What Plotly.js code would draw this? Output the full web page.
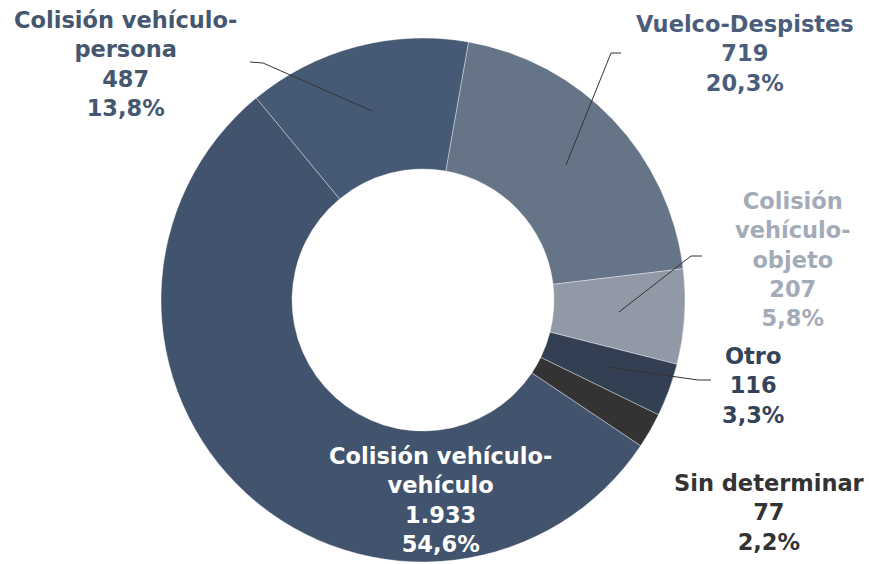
<!DOCTYPE html>
<html><head><meta charset="utf-8">
<script src="https://cdn.plot.ly/plotly-3.0.1.min.js"></script>
<style>html,body{margin:0;padding:0;background:#fff}#chart{width:869px;height:564px}</style>
</head><body><div id="chart"></div>
<script>
// ---- data ----
const categories = ["Vuelco-Despistes", "Colisión vehículo-objeto", "Otro", "Sin determinar", "Colisión vehículo-vehículo", "Colisión vehículo-persona"];
const labelText = ["Vuelco-Despistes", "Colisión<br>vehículo-<br>objeto", "Otro", "Sin determinar", "Colisión vehículo-<br>vehículo", "Colisión vehículo-<br>persona"];
const values = [719, 207, 116, 77, 1933, 487];

// ---- styles ----
const sliceColors = ["#667488", "#9199A6", "#333F53", "#333333", "#42546D", "#475A75"];
const labelColors = ["#4A5E7B", "#A3ABB8", "#34435A", "#333333", "#FFFFFF", "#44576F"];
// label centres (px) and leader lines (px)
const labelPos = [[745, 54], [793, 259], [753, 385], [769, 512], [440, 500], [125, 64]];
const leaders = [
  [[621, 53], [611, 53], [566, 165]],
  [[702, 256], [691, 256], [619, 312]],
  [[711, 380], [698, 380], [607, 367]],
  null,
  null,
  [[250, 62], [263, 63], [372, 111]]
];

const W = 869, H = 564;
const px = x => x / W, py = y => 1 - y / H;
const total = values.reduce((a, b) => a + b, 0);
const fmtNum = v => v.toString().replace(/\B(?=(\d{3})+(?!\d))/g, ".");
const fmtPct = v => (v / total * 100).toFixed(1).replace(".", ",") + "%";

const annotations = categories.map((c, i) => ({
  xref: "paper", yref: "paper",
  x: px(labelPos[i][0]), y: py(labelPos[i][1]),
  xanchor: "center", yanchor: "middle", showarrow: false, align: "center",
  text: labelText[i] + "<br>" + fmtNum(values[i]) + "<br>" + fmtPct(values[i]),
  font: {family: "DejaVu Sans", size: 22.5, weight: 700, color: labelColors[i]}
}));

const shapes = leaders.filter(l => l).map(l => ({
  type: "path", xref: "paper", yref: "paper",
  path: l.map((p, k) => (k ? "L" : "M") + px(p[0]) + "," + py(p[1])).join(" "),
  line: {color: "#333333", width: 1}
}));

const trace = {
  type: "pie",
  labels: categories,
  values: values,
  sort: false,
  direction: "clockwise",
  rotation: 10,
  hole: 0.5,
  textinfo: "none",
  hoverinfo: "label+value+percent",
  marker: {colors: sliceColors, line: {color: "rgba(255,255,255,0.6)", width: 0.6}},
  domain: {x: [161 / W, 685 / W], y: [2 / H, 526 / H]},
  showlegend: false
};

Plotly.newPlot("chart", [trace], {
  width: W, height: H,
  margin: {l: 0, r: 0, t: 0, b: 0},
  paper_bgcolor: "#ffffff",
  showlegend: false,
  annotations: annotations,
  shapes: shapes
}, {displayModeBar: false, staticPlot: true});
</script>
</body></html>
